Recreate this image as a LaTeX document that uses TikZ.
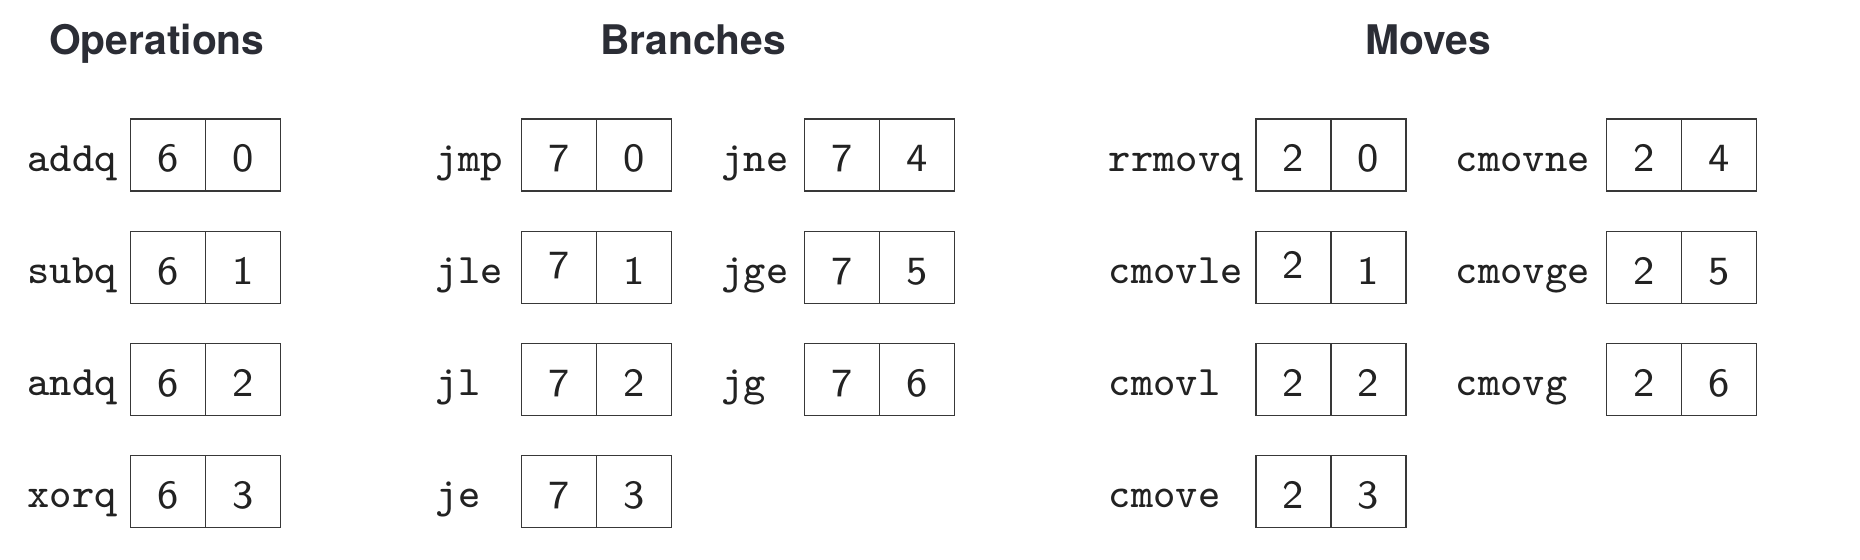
\documentclass[tikz,border=0pt]{standalone}
\usepackage{fontspec}
\newfontfamily\titlefont{TeX Gyre Heros}
\newfontfamily\lblfont{lmmono8-regular}[Extension=.otf]
\newfontfamily\digfont{lmsans8-regular}[Extension=.otf]
\definecolor{titlecol}{HTML}{2B2D35}
\definecolor{linecol}{HTML}{383838}
\definecolor{txtcol}{HTML}{222222}
\newcommand\instrrow[7]{%
  \node[lbl] (#1-l) at (#3,#5+52) {#2};
  \node[cell] (#1-a) at (#4+37.5,#5+36) {#6};
  \node[cell] (#1-b) at (#4+112.5,#5+36) {#7};
}
\begin{document}
\begin{tikzpicture}[x=0.5bp,y=-0.5bp,
  lbl/.style={anchor=base west,inner sep=0pt,text=txtcol,font=\fontsize{21bp}{24bp}\lblfont},
  cell/.style={draw=linecol,line width=0.8bp,inner sep=0pt,minimum width=37.5bp,
    text height=26.35bp,text depth=9.65bp,align=center,text=txtcol,
    font=\fontsize{20bp}{24bp}\digfont},
  ttl/.style={anchor=base,inner sep=0pt,text=titlecol,font=\fontsize{20.4bp}{24bp}\titlefont\bfseries}]
\useasboundingbox (0,0) rectangle (1860,560);
\node[ttl] (tops) at (156.8,54.3) {Operations};
\node[ttl] (tbr) at (693.2,54.3) {Branches};
\node[ttl] (tmv) at (1428,54.3) {Moves};
% Operations
\instrrow{addq}{addq}{27}{130.5}{119.3}{6}{0}
\instrrow{subq}{subq}{27}{130.5}{231.4}{6}{1}
\instrrow{andq}{andq}{27}{130.5}{343.6}{6}{2}
\instrrow{xorq}{xorq}{27}{130.5}{455.7}{6}{3}
% Branches
\instrrow{jmp}{jmp}{435.5}{521.3}{119.3}{7}{0}
\instrrow{jle}{jle}{435.5}{521.3}{231.4}{\raisebox{2.7bp}{7}}{1}
\instrrow{jl}{jl}{435.5}{521.3}{343.6}{7}{2}
\instrrow{je}{je}{435.5}{521.3}{455.7}{7}{3}
\instrrow{jne}{jne}{721}{804.3}{119.3}{7}{4}
\instrrow{jge}{jge}{721}{804.3}{231.4}{7}{5}
\instrrow{jg}{jg}{721}{804.3}{343.6}{7}{6}
% Moves
\instrrow{rrmovq}{rrmovq}{1108.5}{1256}{119.3}{2}{0}
\instrrow{cmovle}{cmovle}{1108.5}{1256}{231.4}{\raisebox{2.7bp}{2}}{1}
\instrrow{cmovl}{cmovl}{1108.5}{1256}{343.6}{2}{2}
\instrrow{cmove}{cmove}{1108.5}{1256}{455.7}{2}{3}
\instrrow{cmovne}{cmovne}{1455.5}{1606.5}{119.3}{2}{4}
\instrrow{cmovge}{cmovge}{1455.5}{1606.5}{231.4}{2}{5}
\instrrow{cmovg}{cmovg}{1455.5}{1606.5}{343.6}{2}{6}
\end{tikzpicture}
\end{document}
